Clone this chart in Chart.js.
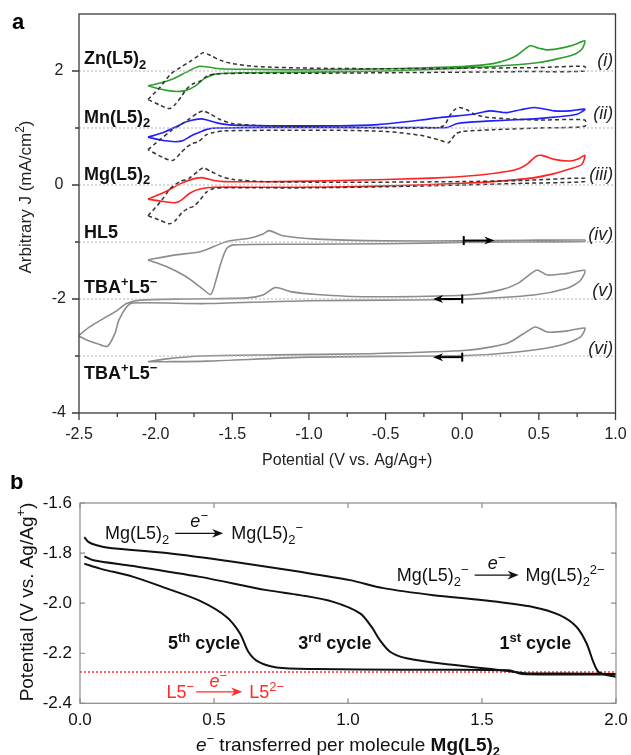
<!DOCTYPE html>
<html>
<head>
<meta charset="utf-8">
<script src="https://cdn.jsdelivr.net/npm/chart.js@4.4.1/dist/chart.umd.min.js"></script>
<style>
  html, body { margin: 0; padding: 0; background: #fff; }
  canvas { position: absolute; left: 0; }
  #cvA { top: 0; }
  #cvB { top: 475px; }
</style>
</head>
<body>
<canvas id="cvA" width="631" height="475"></canvas>
<canvas id="cvB" width="631" height="280"></canvas>
<script>
const FONT = '"Liberation Sans", Arial, Helvetica, sans-serif'

// ---------- panel a : CVs, each trace offset onto its own baseline ----------
const potentialMin = -2.5
const potentialMax = 1.0
const baselineLevels = [2, 1, 0, -1, -2, -3]
const traceNames = ["Zn(L5)_{2}", "Mn(L5)_{2}", "Mg(L5)_{2}", "HL5", "TBA^{+}L5^{−}", "TBA^{+}L5^{−}"]
const traceNumerals = ["(i)", "(ii)", "(iii)", "(iv)", "(v)", "(vi)"]

// [potential, J] pairs, closed loops
const znLoop = [[-2.05,1.74],[-1.97,1.79],[-1.88,1.87],[-1.80,1.98],[-1.72,2.08],[-1.66,2.07],[-1.58,2.04],[-1.4,2.03],[-1.0,2.02],[-0.5,2.04],[0.0,2.08],[0.2,2.13],[0.3,2.2],[0.36,2.28],[0.44,2.44],[0.5,2.40],[0.56,2.37],[0.66,2.41],[0.74,2.47],[0.8,2.53],
  [0.78,2.38],[0.72,2.28],[0.6,2.2],[0.5,2.15],[0.3,2.1],[0.0,2.05],[-0.5,2.0],[-1.0,1.98],[-1.4,1.97],[-1.6,1.95],[-1.68,1.87],[-1.74,1.74],[-1.80,1.66],[-1.86,1.64],[-1.93,1.66],[-2.05,1.74]]
const znBlank = [[-2.05,1.50],[-1.97,1.72],[-1.90,1.95],[-1.84,2.06],[-1.78,2.16],[-1.72,2.27],[-1.69,2.32],[-1.64,2.27],[-1.58,2.19],[-1.50,2.13],[-1.35,2.08],[-1.0,2.05],[-0.5,2.04],[0.0,2.05],[0.5,2.06],[0.8,2.08],
  [0.8,2.00],[0.4,1.99],[0.0,1.98],[-0.5,1.97],[-1.0,1.96],[-1.4,1.96],[-1.6,1.95],[-1.66,1.92],[-1.71,1.82],[-1.76,1.77],[-1.80,1.68],[-1.83,1.56],[-1.87,1.42],[-1.91,1.34],[-1.97,1.40],[-2.05,1.50]]
const mnLoop = [[-2.05,0.84],[-1.95,0.92],[-1.86,1.03],[-1.80,1.11],[-1.70,1.16],[-1.60,1.09],[-1.5,1.05],[-1.2,1.04],[-0.8,1.04],[-0.55,1.06],[-0.4,1.10],[-0.27,1.14],[-0.12,1.19],[0.07,1.24],[0.18,1.30],[0.29,1.27],[0.38,1.32],[0.47,1.36],[0.6,1.30],[0.7,1.30],[0.8,1.33],
  [0.75,1.24],[0.6,1.19],[0.47,1.16],[0.16,1.12],[-0.03,1.08],[-0.1,1.01],[-0.3,1.01],[-0.8,1.01],[-1.3,1.01],[-1.6,1.0],[-1.66,0.98],[-1.71,0.93],[-1.77,0.86],[-1.82,0.78],[-1.87,0.76],[-1.95,0.78],[-2.05,0.84]]
const mnBlank = [[-2.05,0.62],[-1.97,0.80],[-1.90,0.95],[-1.84,1.05],[-1.78,1.16],[-1.72,1.27],[-1.69,1.30],[-1.64,1.24],[-1.58,1.15],[-1.50,1.08],[-1.3,1.04],[-1.0,1.02],[-0.5,1.0],[-0.2,1.0],[-0.12,1.04],[-0.08,1.22],[-0.05,1.32],[-0.02,1.36],[0.03,1.32],[0.08,1.24],[0.16,1.19],[0.3,1.16],[0.5,1.14],[0.8,1.14],
  [0.8,1.03],[0.5,1.0],[0.2,0.97],[0.0,0.94],[-0.04,0.90],[-0.07,0.80],[-0.09,0.74],[-0.15,0.79],[-0.25,0.86],[-0.35,0.90],[-0.5,0.94],[-0.8,0.96],[-1.2,0.96],[-1.55,0.95],[-1.62,0.92],[-1.67,0.88],[-1.72,0.76],[-1.76,0.73],[-1.80,0.66],[-1.84,0.55],[-1.89,0.43],[-1.95,0.48],[-2.05,0.62]]
const mgLoop = [[-2.05,-0.25],[-1.93,-0.11],[-1.84,0.02],[-1.775,0.09],[-1.70,0.13],[-1.62,0.08],[-1.55,0.06],[-1.2,0.06],[-0.8,0.08],[-0.2,0.12],[0.1,0.17],[0.3,0.24],[0.38,0.30],[0.43,0.38],[0.48,0.50],[0.52,0.52],[0.6,0.45],[0.7,0.42],[0.76,0.46],[0.8,0.52],
  [0.78,0.36],[0.7,0.28],[0.6,0.20],[0.45,0.12],[0.2,0.06],[0.0,0.03],[-0.4,-0.01],[-0.84,-0.035],[-1.3,-0.04],[-1.62,-0.04],[-1.71,-0.07],[-1.775,-0.14],[-1.83,-0.26],[-1.87,-0.31],[-1.95,-0.29],[-2.05,-0.25]]
const mgBlank = [[-2.05,-0.54],[-1.97,-0.30],[-1.90,-0.05],[-1.84,0.06],[-1.78,0.12],[-1.72,0.25],[-1.69,0.30],[-1.64,0.24],[-1.58,0.16],[-1.50,0.10],[-1.3,0.06],[-1.0,0.05],[-0.5,0.05],[0.0,0.06],[0.4,0.08],[0.8,0.12],
  [0.8,0.06],[0.4,0.03],[0.0,0.0],[-0.5,-0.03],[-1.0,-0.05],[-1.5,-0.05],[-1.62,-0.06],[-1.67,-0.13],[-1.71,-0.26],[-1.75,-0.37],[-1.79,-0.41],[-1.83,-0.49],[-1.87,-0.62],[-1.91,-0.68],[-1.97,-0.62],[-2.05,-0.54]]
const hl5Loop = [[-2.05,-1.315],[-1.88,-1.23],[-1.71,-1.17],[-1.62,-1.08],[-1.535,-0.99],[-1.38,-0.93],[-1.30,-0.86],[-1.26,-0.80],[-1.17,-0.89],[-0.95,-0.95],[-0.5,-0.98],[0.0,-0.98],[0.4,-0.97],[0.8,-0.965],
  [0.8,-0.99],[0.4,-1.0],[0.0,-1.01],[-0.5,-1.03],[-1.0,-1.04],[-1.49,-1.05],[-1.535,-1.11],[-1.568,-1.315],[-1.60,-1.61],[-1.64,-1.92],[-1.69,-1.83],[-1.80,-1.61],[-1.93,-1.43],[-2.05,-1.315]]
const tbaLoopWide = [[-2.5,-2.635],[-2.43,-2.49],[-2.32,-2.31],[-2.25,-2.20],[-2.19,-2.08],[-2.10,-2.02],[-1.8,-2.0],[-1.4,-1.98],[-1.30,-1.93],[-1.22,-1.80],[-1.12,-1.87],[-0.95,-1.92],[-0.62,-1.96],[0.03,-1.93],[0.25,-1.84],[0.36,-1.73],[0.45,-1.55],[0.49,-1.49],[0.555,-1.58],[0.685,-1.55],[0.8,-1.50],
  [0.77,-1.68],[0.685,-1.81],[0.467,-1.93],[0.03,-2.0],[-0.5,-2.02],[-1.0,-2.03],[-1.67,-2.08],[-2.15,-2.07],[-2.19,-2.14],[-2.24,-2.37],[-2.265,-2.6],[-2.315,-2.83],[-2.384,-2.78],[-2.45,-2.72],[-2.5,-2.65]]
const tbaLoopNarrow = [[-2.05,-3.10],[-1.93,-3.05],[-1.7,-3.00],[-1.21,-2.98],[-0.62,-2.96],[0.03,-2.90],[0.29,-2.78],[0.40,-2.61],[0.478,-2.49],[0.555,-2.58],[0.685,-2.56],[0.8,-2.51],
  [0.77,-2.67],[0.64,-2.81],[0.36,-2.93],[0.03,-2.99],[-1.0,-3.02],[-1.666,-3.09],[-1.93,-3.10],[-2.05,-3.10]]

// ---------- panel b : galvanostatic reduction of Mg(L5)2 ----------
const cycle1 = [[0.016,-1.736],[0.031,-1.755],[0.062,-1.769],[0.112,-1.78],[0.323,-1.80],[0.572,-1.835],[0.821,-1.875],[1.007,-1.908],[1.132,-1.94],[1.318,-1.968],[1.505,-1.988],[1.69,-2.015],[1.79,-2.048],[1.853,-2.095],[1.89,-2.16],[1.915,-2.234],[1.934,-2.274],[1.965,-2.287],[2.0,-2.294]]
const cycle3 = [[0.016,-1.813],[0.05,-1.829],[0.199,-1.852],[0.448,-1.895],[0.697,-1.948],[0.821,-1.968],[0.945,-1.995],[1.045,-2.041],[1.088,-2.095],[1.119,-2.148],[1.157,-2.194],[1.219,-2.22],[1.38,-2.245],[1.567,-2.267],[1.66,-2.28],[1.8,-2.281],[2.0,-2.283]]
const cycle5 = [[0.016,-1.842],[0.075,-1.862],[0.199,-1.895],[0.323,-1.941],[0.448,-1.991],[0.547,-2.055],[0.597,-2.121],[0.628,-2.194],[0.665,-2.234],[0.734,-2.257],[0.883,-2.263],[1.2,-2.266],[1.6,-2.268],[1.65,-2.283],[2.0,-2.285]]
const ligandReduction = -2.275
const cycleLabels = ["5^{th} cycle", "3^{rd} cycle", "1^{st} cycle"]

const pts = a => a.map(p => ({ x: p[0], y: p[1] }))

// "_{..}" subscript, "^{..}" superscript
function parseMarkup(str, base) {
    const parts = []
    const re = /([_^])\{([^}]*)\}/g
    let last = 0, m
    while ((m = re.exec(str))) {
        if (m.index > last) parts.push({ ...base, t: str.slice(last, m.index) })
        parts.push({ ...base, t: m[2], sub: m[1] === "_", sup: m[1] === "^" })
        last = re.lastIndex
    }
    if (last < str.length) parts.push({ ...base, t: str.slice(last) })
    return parts
}

function drawRich(ctx, parts, x, y, size, color, align) {
    const segs = parts.map(p => {
        const s = p.sub || p.sup ? Math.round(size * 0.7) : size
        const font = (p.i ? "italic " : "") + (p.b ? "bold " : "") + s + "px " + FONT
        ctx.font = font
        return { t: p.t, font, w: ctx.measureText(p.t).width, dy: p.sub ? size * 0.25 : p.sup ? -size * 0.4 : 0 }
    })
    const total = segs.reduce((a, s) => a + s.w, 0)
    let cx = align === "center" ? x - total / 2 : align === "right" ? x - total : x
    ctx.fillStyle = color
    ctx.textAlign = "left"
    ctx.textBaseline = "alphabetic"
    segs.forEach(s => { ctx.font = s.font; ctx.fillText(s.t, cx, y + s.dy); cx += s.w })
    return total
}

function arrow(ctx, x0, x1, y, color, lw, head, bar) {
    const dir = Math.sign(x1 - x0)
    ctx.save()
    ctx.strokeStyle = color
    ctx.fillStyle = color
    ctx.lineWidth = lw
    ctx.beginPath()
    ctx.moveTo(x0, y)
    ctx.lineTo(x1 - dir * head * 0.6, y)
    ctx.stroke()
    if (bar) {
        ctx.beginPath()
        ctx.moveTo(x0, y - bar)
        ctx.lineTo(x0, y + bar)
        ctx.stroke()
    }
    ctx.beginPath()
    ctx.moveTo(x1, y)
    ctx.lineTo(x1 - dir * head, y - head * 0.4)
    ctx.lineTo(x1 - dir * head * 0.7, y)
    ctx.lineTo(x1 - dir * head, y + head * 0.4)
    ctx.closePath()
    ctx.fill()
    ctx.restore()
}

const isHalf = v => Math.abs(v * 2 - Math.round(v * 2)) < 1e-6

// keep Chart.js from adding label overhang to the layout
const noOverhang = s => { s.paddingTop = 0; s.paddingBottom = 0; s.paddingLeft = 0; s.paddingRight = 0 }

const panelA = {
    id: "panelA",
    afterDraw(chart) {
        const { ctx, chartArea: ca, scales: { x, y } } = chart
        ctx.save()
        ctx.strokeStyle = "#3a3a3a"
        ctx.lineWidth = 1.3
        ctx.strokeRect(ca.left, ca.top, ca.right - ca.left, ca.bottom - ca.top)
        ctx.beginPath()
        x.ticks.forEach(t => {
            const px = x.getPixelForValue(t.value)
            const len = isHalf(t.value) ? 7 : 4
            ctx.moveTo(px, ca.bottom)
            ctx.lineTo(px, ca.bottom + len)
        })
        y.ticks.forEach(t => {
            if (t.value >= 3) return
            const py = y.getPixelForValue(t.value)
            const len = t.value % 2 === 0 ? 7 : 4
            ctx.moveTo(ca.left - len, py)
            ctx.lineTo(ca.left, py)
        })
        ctx.stroke()

        // compound names and roman numerals beside each trace
        const nameY = [2.118, 1.09, 0.093, -0.933, -1.90, -3.40]
        const numY = [2.09, 1.15, 0.093, -0.96, -1.94, -2.96]
        traceNames.forEach((n, i) => drawRich(ctx, parseMarkup(n, { b: true }), x.getPixelForValue(-2.467), y.getPixelForValue(nameY[i]), 18, "#111", "left"))
        traceNumerals.forEach((n, i) => drawRich(ctx, parseMarkup(n, { i: true }), x.getPixelForValue(0.985), y.getPixelForValue(numY[i]), 18, "#222", "right"))

        // scan direction arrows
        arrow(ctx, x.getPixelForValue(0.01), x.getPixelForValue(0.21), y.getPixelForValue(-0.975), "#000", 2, 10, 4.5)
        arrow(ctx, x.getPixelForValue(0.0), x.getPixelForValue(-0.19), y.getPixelForValue(-2.0), "#000", 2, 10, 4.5)
        arrow(ctx, x.getPixelForValue(0.0), x.getPixelForValue(-0.19), y.getPixelForValue(-3.02), "#000", 2, 10, 4.5)

        // axis titles
        drawRich(ctx, parseMarkup("Potential (V vs. Ag/Ag+)", {}), (ca.left + ca.right) / 2, 465, 16, "#222", "center")
        ctx.save()
        ctx.translate(25, 197)
        ctx.rotate(-Math.PI / 2)
        drawRich(ctx, parseMarkup("Arbitrary J (mA/cm^{2})", {}), 0, 6, 17, "#222", "center")
        ctx.restore()

        drawRich(ctx, [{ t: "a", b: true }], 12, 29, 22, "#000", "left")
        ctx.restore()
    }
}

const panelB = {
    id: "panelB",
    afterDraw(chart) {
        const { ctx, chartArea: ca, scales: { x, y } } = chart
        ctx.save()
        ctx.strokeStyle = "#8a8a8a"
        ctx.lineWidth = 1.2
        ctx.strokeRect(ca.left, ca.top, ca.right - ca.left, ca.bottom - ca.top)
        ctx.beginPath()
        x.ticks.forEach(t => {
            const px = x.getPixelForValue(t.value)
            ctx.moveTo(px, ca.bottom); ctx.lineTo(px, ca.bottom - 5)
            ctx.moveTo(px, ca.top); ctx.lineTo(px, ca.top + 5)
        })
        y.ticks.forEach(t => {
            const py = y.getPixelForValue(t.value)
            ctx.moveTo(ca.left, py); ctx.lineTo(ca.left + 5, py)
            ctx.moveTo(ca.right, py); ctx.lineTo(ca.right - 5, py)
        })
        ctx.stroke()

        const X = v => x.getPixelForValue(v)
        const Y = v => y.getPixelForValue(v)

        // Mg(L5)2 -> Mg(L5)2-
        let px = X(0.093), py = Y(-1.721)
        px += drawRich(ctx, parseMarkup("Mg(L5)_{2}", {}), px, py + 6, 18, "#111", "left") + 6
        arrow(ctx, px, px + 48, py, "#111", 1.2, 11, 0)
        drawRich(ctx, parseMarkup("e^{−}", { i: true }), px + 24, py - 6, 18, "#111", "center")
        drawRich(ctx, parseMarkup("Mg(L5)_{2}^{−}", {}), px + 56, py + 6, 18, "#111", "left")

        // Mg(L5)2- -> Mg(L5)2 2-
        px = X(1.182); py = Y(-1.888)
        px += drawRich(ctx, parseMarkup("Mg(L5)_{2}^{−}", {}), px, py + 6, 18, "#111", "left") + 6
        arrow(ctx, px, px + 44, py, "#111", 1.2, 11, 0)
        drawRich(ctx, parseMarkup("e^{−}", { i: true }), px + 22, py - 6, 18, "#111", "center")
        drawRich(ctx, parseMarkup("Mg(L5)_{2}^{2−}", {}), px + 51, py + 6, 18, "#111", "left")

        // L5- -> L5 2- (red)
        px = X(0.323); py = Y(-2.354)
        px += drawRich(ctx, parseMarkup("L5^{−}", {}), px, py + 6, 18, "#ff2a2a", "left") + 2
        arrow(ctx, px, px + 46, py, "#ff2a2a", 1.2, 11, 0)
        drawRich(ctx, parseMarkup("e^{−}", { i: true }), px + 22, py - 5, 18, "#ff2a2a", "center")
        drawRich(ctx, parseMarkup("L5^{2−}", {}), px + 53, py + 6, 18, "#ff2a2a", "left")

        // cycle labels
        const labelX = [0.463, 0.951, 1.699]
        cycleLabels.forEach((c, i) => drawRich(ctx, parseMarkup(c, { b: true }), X(labelX[i]), Y(-2.16) + 6, 18, "#111", "center"))

        // axis titles
        const xt = [...parseMarkup("e^{−}", { i: true }), ...parseMarkup(" transferred per molecule ", {}), ...parseMarkup("Mg(L5)_{2}", { b: true })]
        drawRich(ctx, xt, (ca.left + ca.right) / 2, 276, 19, "#111", "center")
        ctx.save()
        ctx.translate(26, 127)
        ctx.rotate(-Math.PI / 2)
        drawRich(ctx, parseMarkup("Potential (V vs. Ag/Ag^{+})", {}), 0, 7, 19, "#111", "center")
        ctx.restore()

        drawRich(ctx, [{ t: "b", b: true }], 10, 14, 22, "#000", "left")
        ctx.restore()
    }
}

Chart.defaults.font.family = FONT
Chart.defaults.elements.point.radius = 0

const loopSet = (data, color, dashed) => ({
    data: pts(data),
    borderColor: color,
    borderWidth: dashed ? 1.5 : 1.6,
    borderDash: dashed ? [4, 3] : [],
    tension: 0.25
})

const datasetsA = baselineLevels.map(v => ({
    data: [{ x: potentialMin, y: v }, { x: potentialMax, y: v }],
    borderColor: "#b3b3b3",
    borderWidth: 1,
    borderDash: [2, 2],
    tension: 0
}))
datasetsA.push(
    loopSet(znBlank, "#333333", true),
    loopSet(mnBlank, "#333333", true),
    loopSet(mgBlank, "#333333", true),
    loopSet(znLoop, "#2f9e2f", false),
    loopSet(mnLoop, "#1f1fff", false),
    loopSet(mgLoop, "#ff2222", false),
    loopSet(hl5Loop, "#8c8c8c", false),
    loopSet(tbaLoopWide, "#8c8c8c", false),
    loopSet(tbaLoopNarrow, "#8c8c8c", false)
)

new Chart(document.getElementById("cvA").getContext("2d"), {
    type: "scatter",
    data: { datasets: datasetsA },
    options: {
        responsive: false,
        animation: false,
        showLine: true,
        layout: { padding: { top: 14, right: 15.5, left: 0, bottom: 0 } },
        plugins: { legend: { display: false }, tooltip: { enabled: false } },
        scales: {
            x: {
                type: "linear", min: potentialMin, max: potentialMax,
                ticks: { stepSize: 0.25, autoSkip: false, maxRotation: 0, padding: 12, color: "#222", font: { size: 16 },
                    callback: v => isHalf(v) ? v.toFixed(1) : "" },
                grid: { display: false, drawTicks: false },
                border: { display: false },
                afterFit: s => { s.height = 62; noOverhang(s) }
            },
            y: {
                type: "linear", min: -4, max: 3,
                ticks: { stepSize: 1, padding: 13, crossAlign: "center", color: "#222", font: { size: 16 },
                    callback: v => v % 2 === 0 && v < 3 ? String(v) : "" },
                grid: { display: false, drawTicks: false },
                border: { display: false },
                afterFit: s => { s.width = 79; noOverhang(s) }
            }
        }
    },
    plugins: [panelA]
})

const datasetsB = [
    { data: pts(cycle5), borderColor: "#111", borderWidth: 2, tension: 0.3 },
    { data: pts(cycle3), borderColor: "#111", borderWidth: 2, tension: 0.3 },
    { data: pts(cycle1), borderColor: "#111", borderWidth: 2, tension: 0.3 },
    { data: [{ x: 0, y: ligandReduction }, { x: 2, y: ligandReduction }], borderColor: "#ff3030", borderWidth: 1.5, borderDash: [2, 2], tension: 0 }
]

new Chart(document.getElementById("cvB").getContext("2d"), {
    type: "scatter",
    data: { datasets: datasetsB },
    options: {
        responsive: false,
        animation: false,
        showLine: true,
        layout: { padding: { top: 28, right: 15, left: 0, bottom: 0 } },
        plugins: { legend: { display: false }, tooltip: { enabled: false } },
        scales: {
            x: {
                type: "linear", min: 0, max: 2,
                ticks: { stepSize: 0.5, maxRotation: 0, padding: 7, color: "#111", font: { size: 17 }, callback: v => v.toFixed(1) },
                grid: { display: false, drawTicks: false },
                border: { display: false },
                afterFit: s => { s.height = 51.7; noOverhang(s) }
            },
            y: {
                type: "linear", min: -2.4, max: -1.6,
                ticks: { stepSize: 0.2, padding: 8, color: "#111", font: { size: 17 }, callback: v => v.toFixed(1) },
                grid: { display: false, drawTicks: false },
                border: { display: false },
                afterFit: s => { s.width = 80; noOverhang(s) }
            }
        }
    },
    plugins: [panelB]
})
</script>
</body>
</html>
